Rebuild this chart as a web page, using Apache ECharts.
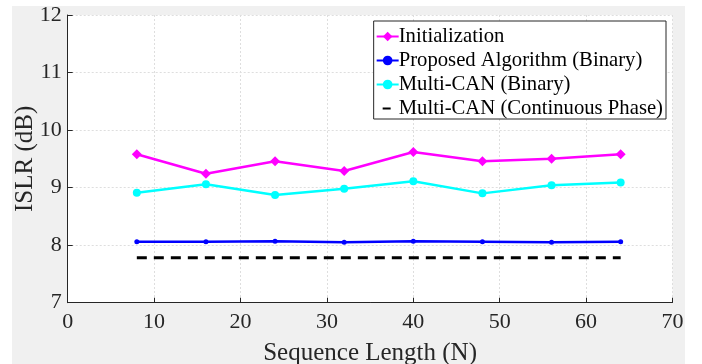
<!DOCTYPE html>
<html>
<head>
<meta charset="utf-8">
<script src="https://cdn.jsdelivr.net/npm/echarts@6/dist/echarts.min.js"></script>
<style>
  html, body { margin: 0; padding: 0; background: #fff; }
  #chart { width: 702px; height: 364px; }
</style>
</head>
<body>
<div id="chart"></div>
<script>
const seqLength = [8, 16, 24, 32, 40, 48, 56, 64]
const initialization = [9.58, 9.24, 9.46, 9.29, 9.62, 9.46, 9.50, 9.58]
const proposedBinary = [8.06, 8.06, 8.07, 8.05, 8.07, 8.06, 8.05, 8.06]
const multiCanBinary = [8.91, 9.06, 8.87, 8.98, 9.11, 8.90, 9.04, 9.09]
const multiCanContinuous = [7.78, 7.78, 7.78, 7.78, 7.78, 7.78, 7.78, 7.78]

const pairs = (ys) => seqLength.map((x, i) => [x, ys[i]])

const font = "'Liberation Serif', serif"
const axisColor = '#262626'
const chart = echarts.init(document.getElementById('chart'))

const option = {
  backgroundColor: '#ffffff',
  animation: false,
  textStyle: { fontFamily: font },
  graphic: [
    {
      type: 'rect',
      z: -10,
      silent: true,
      shape: { x: 12, y: 6, width: 673, height: 358 },
      style: { fill: '#f0f0f0' }
    }
  ],
  grid: {
    left: 67.7,
    right: 29.5,
    top: 15,
    bottom: 61.3,
    outerBoundsMode: 'none',
    containLabel: false,
    show: true,
    backgroundColor: '#ffffff',
    borderWidth: 0
  },
  legend: {
    orient: 'vertical',
    right: 36,
    top: 21,
    padding: [5, 3, 0, 2],
    itemGap: 3,
    itemWidth: 22,
    itemHeight: 12,
    backgroundColor: '#ffffff',
    borderColor: '#262626',
    borderWidth: 1,
    borderRadius: 0,
    textStyle: { fontFamily: font, fontSize: 20.7, color: '#000', padding: [0, 0, 0, -5] },
    data: [
      'Initialization',
      'Proposed Algorithm (Binary)',
      'Multi-CAN (Binary)',
      {
        name: 'Multi-CAN (Continuous Phase)',
        itemStyle: { opacity: 0 },
        lineStyle: { type: [0, 6, 8, 8] }
      }
    ]
  },
  xAxis: {
    type: 'value',
    min: 0,
    max: 70,
    interval: 10,
    name: 'Sequence Length (N)',
    nameLocation: 'middle',
    nameGap: 38,
    nameMoveOverlap: false,
    nameTextStyle: { fontFamily: font, fontSize: 25, color: axisColor },
    axisLine: { show: true, onZero: false, lineStyle: { color: axisColor, width: 1 } },
    axisTick: { show: true, inside: true, length: 5, lineStyle: { color: axisColor } },
    axisLabel: { fontFamily: font, fontSize: 22, color: axisColor, margin: 9 },
    splitLine: { show: true, lineStyle: { color: '#dedede', type: [2, 2], width: 1 } }
  },
  yAxis: {
    type: 'value',
    min: 7,
    max: 12,
    interval: 1,
    name: 'ISLR (dB)',
    nameLocation: 'middle',
    nameGap: 30,
    nameMoveOverlap: false,
    nameTextStyle: { fontFamily: font, fontSize: 25, color: axisColor },
    axisLine: { show: true, onZero: false, lineStyle: { color: axisColor, width: 1 } },
    axisTick: { show: true, inside: true, length: 5, lineStyle: { color: axisColor } },
    axisLabel: { fontFamily: font, fontSize: 22, color: axisColor, margin: 6 },
    splitLine: { show: true, lineStyle: { color: '#dedede', type: [2, 2], width: 1 } }
  },
  series: [
    {
      name: 'Initialization',
      type: 'line',
      data: pairs(initialization),
      symbol: 'diamond',
      symbolSize: 10,
      color: '#ff00ff',
      lineStyle: { width: 2.5 }
    },
    {
      name: 'Proposed Algorithm (Binary)',
      type: 'line',
      data: pairs(proposedBinary),
      symbol: 'circle',
      symbolSize: 5,
      color: '#0000ff',
      lineStyle: { width: 2.5 }
    },
    {
      name: 'Multi-CAN (Binary)',
      type: 'line',
      data: pairs(multiCanBinary),
      symbol: 'circle',
      symbolSize: 8,
      color: '#00ffff',
      lineStyle: { width: 2.5 }
    },
    {
      name: 'Multi-CAN (Continuous Phase)',
      type: 'line',
      data: pairs(multiCanContinuous),
      symbol: 'none',
      color: '#000000',
      lineStyle: { width: 3, type: [10, 7] }
    }
  ]
}
chart.setOption(option)
</script>
</body>
</html>
